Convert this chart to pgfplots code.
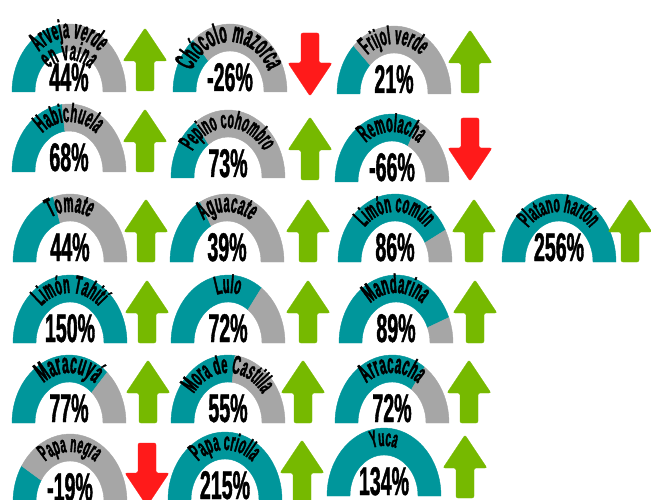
\documentclass[border=0pt]{standalone}
\usepackage{fontspec}
\usepackage{pgfplots}
\pgfplotsset{compat=1.18}
\usetikzlibrary{decorations.text}

\newfontfamily\labf{Liberation Sans Bold}[FakeStretch=0.42, FakeBold=1.4]
\newfontfamily\pctf{Liberation Sans Bold}[FakeStretch=0.49, FakeBold=1]
\newcommand\pctfont{\pctf\fontsize{40}{40}\selectfont}

\definecolor{gteal}{RGB}{0,150,155}
\definecolor{ggray}{RGB}{166,166,166}
\definecolor{agreen}{RGB}{118,185,0}
\definecolor{ared}{RGB}{255,26,26}

\pgfdeclareplotmark{nothing}{}

% #1 angle where teal stops (0 = full), #2 label size, #3 percent,
% #4 label, #5 second label line (may be empty)
\newcommand\drawgauge[5]{%
    \fill[gteal] (180:57pt and 68pt)
        arc[start angle=180, end angle=#1, x radius=57pt, y radius=68pt]
        -- (#1:34pt and 41pt)
        arc[start angle=#1, end angle=180, x radius=34pt, y radius=41pt] -- cycle;
    \ifdim#1pt>0.5pt
    \fill[ggray] (#1:57pt and 68pt)
        arc[start angle=#1, end angle=0, x radius=57pt, y radius=68pt]
        -- (0:34pt and 41pt)
        arc[start angle=0, end angle=#1, x radius=34pt, y radius=41pt] -- cycle;
    \fi
    \node[anchor=base, inner sep=0pt, font=\pctfont] at (0,1pt) {#3\%};
    \labf\fontsize{#2}{#2}\selectfont
    \if\relax\detokenize{#5}\relax
    \path[decorate, decoration={text along path, text={#4}, text align=center}]
        (180:42pt and 50pt) arc[start angle=180, end angle=0, x radius=42pt, y radius=50pt];
    \else
    \path[decorate, decoration={text along path, text={#4}, text align=center}]
        (180:45pt and 54pt) arc[start angle=180, end angle=0, x radius=45pt, y radius=54pt];
    \path[decorate, decoration={text along path, text={#5}, text align=center}]
        (180:30pt and 32pt) arc[start angle=180, end angle=0, x radius=30pt, y radius=32pt];
    \fi
}

\newcommand\uparrowshape[1]{%
    \fill[#1, rounded corners=2pt]
        (-9pt,0pt) -- (-9pt,30pt) -- (-22pt,30pt) -- (0pt,63pt)
        -- (22pt,30pt) -- (9pt,30pt) -- (9pt,0pt) -- cycle;
}
\newcommand\downarrowshape[1]{%
    \fill[#1, rounded corners=2pt]
        (-9pt,0pt) -- (-9pt,-30pt) -- (-22pt,-30pt) -- (0pt,-63pt)
        -- (22pt,-30pt) -- (9pt,-30pt) -- (9pt,0pt) -- cycle;
}

\pgfplotsset{
    gauge/.style n args={5}{scatter, only marks, mark=nothing, point meta=0,
        scatter/@pre marker code/.code={\drawgauge{#1}{#2}{#3}{#4}{#5}},
        scatter/@post marker code/.code={}},
    uparrow/.style={scatter, only marks, mark=nothing, point meta=0,
        scatter/@pre marker code/.code={\uparrowshape{agreen}},
        scatter/@post marker code/.code={}},
    downarrow/.style={scatter, only marks, mark=nothing, point meta=0,
        scatter/@pre marker code/.code={\downarrowshape{ared}},
        scatter/@post marker code/.code={}},
}

\begin{document}
\begin{tikzpicture}
% the axis runs 40 px below the picture, so that the last row can be cut
\begin{axis}[
    width=651pt, height=540pt, scale only axis,
    xmin=0, xmax=651, ymin=0, ymax=540, y dir=reverse,
    point meta min=0, point meta max=1,
    hide axis, clip=false,
]
\coordinate (tl) at (axis cs:0,0);
\coordinate (br) at (axis cs:651,500);
% gauge centre x, base y in pixels from the top
\addplot[gauge={100}{27}{44}{Arveja verde}{en vaina}] coordinates {(69,92)};
\addplot[gauge={130}{29}{-26}{Chócolo mazorca}{}] coordinates {(230,92)};
\addplot[gauge={135}{26}{21}{Frijol verde}{}] coordinates {(394,94)};
\addplot[gauge={97}{26.5}{68}{Habichuela}{}] coordinates {(69,172)};
\addplot[gauge={125}{25}{73}{Pepino cohombro}{}] coordinates {(228,178)};
\addplot[gauge={62}{26}{-66}{Remolacha}{}] coordinates {(392,182)};
\addplot[gauge={107}{27}{44}{Tomate}{}] coordinates {(70,262)};
\addplot[gauge={118}{27}{39}{Aguacate}{}] coordinates {(227,262)};
\addplot[gauge={28}{25.5}{86}{Limón común}{}] coordinates {(395,262)};
\addplot[gauge={0}{24.5}{256}{Platano hartón}{}] coordinates {(559,262)};
\addplot[gauge={0}{26}{150}{Limón Tahití}{}] coordinates {(70,343)};
\addplot[gauge={54}{26}{72}{Lulo}{}] coordinates {(228,343)};
\addplot[gauge={22}{27}{89}{Mandarina}{}] coordinates {(396,343)};
\addplot[gauge={48}{29}{77}{Maracuyá}{}] coordinates {(69,423)};
\addplot[gauge={83}{26}{55}{Mora de Castilla}{}] coordinates {(228,423)};
\addplot[gauge={55}{27.5}{72}{Arracacha}{}] coordinates {(392,423)};
\addplot[gauge={148}{24}{-19}{Papa negra}{}] coordinates {(70,502)};
\addplot[gauge={0}{25.5}{215}{Papa criolla}{}] coordinates {(225,500)};
\addplot[gauge={0}{24}{134}{Yuca}{}] coordinates {(384,496)};

% arrows: bottom of the up arrows, top of the down arrows
\addplot[uparrow] coordinates {
    (145,91) (470,93) (145,172) (310,180)
    (146,262) (308,262) (474,262) (630,262)
    (147,343) (308,343) (475,343)
    (148,423) (303,423) (469,423)
    (302,503) (465,498)
};
\addplot[downarrow] coordinates {(310,33) (470,118) (147,443)};
\end{axis}
\pgfresetboundingbox
\clip (tl) rectangle (br);
\path[use as bounding box] (tl) rectangle (br);
\end{tikzpicture}
\end{document}
